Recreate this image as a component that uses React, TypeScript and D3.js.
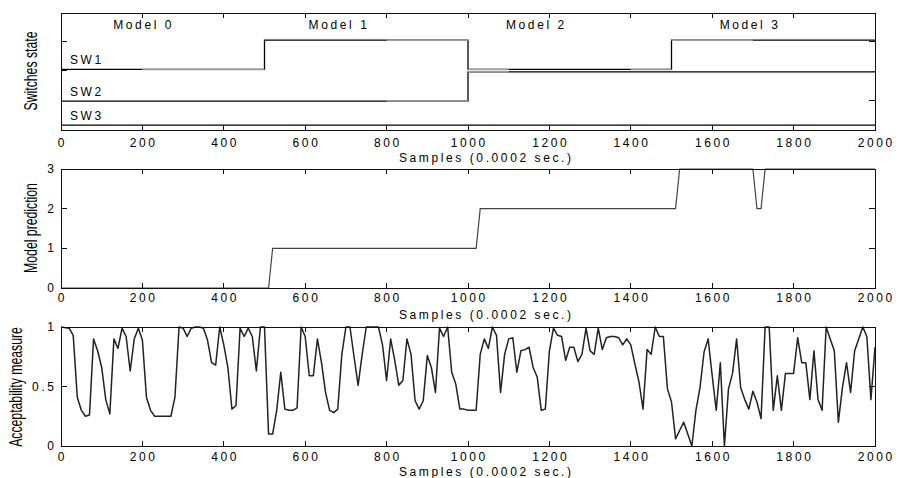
import { useEffect, useRef } from 'react';
import * as d3 from 'd3';

// shared x axis (samples)
const xTicks = [0, 200, 400, 600, 800, 1000, 1200, 1400, 1600, 1800, 2000];
const xTitle = 'Samples (0.0002 sec.)';

// switches panel
const modelNames = ['Model 0', 'Model 1', 'Model 2', 'Model 3'];
const modelLabelAt = [200, 680, 1165, 1690];
const modelStarts = [0, 500, 1000, 1500];
const switchNames = ['SW1', 'SW2', 'SW3'];
const switchOffsets = [1.9, 0.82, 0];
const sw1States = [0, 1, 0, 1];
const sw2States = [0, 0, 1, 1];
const sw3States = [0, 0, 0, 0];
const sw1Gray = [[200, 500], [800, 1100], [1400, 1700]];
const sw2Gray = [[800, 1100]];
const sw3Gray: number[][] = [];
const switchLeftTicks = [2.85, 1.85];
const switchRightTicks = [2.85, 0.85];

// model prediction panel
const predSamples = [0, 510, 520, 1020, 1030, 1510, 1520, 1700, 1710, 1720, 1730, 2000];
const predValues = [0, 0, 1, 1, 2, 2, 3, 3, 2, 2, 3, 3];
const predTicks = [0, 1, 2, 3];

// acceptability measure panel
const accSamples = [
  0, 20, 30, 40, 50, 60, 70, 80, 90, 100, 110, 120, 130, 140, 150, 160, 170, 180, 190, 200,
  210, 220, 230, 240, 250, 260, 270, 280, 290, 300, 310, 320, 330, 340, 350, 360, 370, 380, 390, 400,
  410, 420, 430, 440, 450, 460, 470, 480, 490, 500, 510, 520, 530, 540, 550, 560, 570, 580, 590, 600,
  610, 620, 630, 640, 650, 660, 670, 680, 690, 700, 710, 720, 730, 740, 750, 760, 770, 780, 790, 800,
  810, 820, 830, 840, 850, 860, 870, 880, 890, 900, 910, 920, 930, 940, 950, 960, 970, 980, 990, 1000,
  1010, 1020, 1030, 1040, 1050, 1060, 1070, 1080, 1090, 1100, 1110, 1120, 1130, 1140, 1150, 1160, 1170, 1180, 1190, 1200,
  1210, 1220, 1230, 1240, 1250, 1260, 1270, 1280, 1290, 1300, 1310, 1320, 1330, 1340, 1350, 1360, 1370, 1380, 1390, 1400,
  1410, 1420, 1430, 1440, 1450, 1460, 1470, 1480, 1490, 1500, 1510, 1520, 1530, 1540, 1550, 1560, 1570, 1580, 1590, 1600,
  1610, 1620, 1630, 1640, 1650, 1660, 1670, 1680, 1690, 1700, 1710, 1720, 1730, 1740, 1750, 1760, 1770, 1780, 1790, 1800,
  1810, 1820, 1830, 1840, 1850, 1860, 1870, 1880, 1890, 1900, 1910, 1920, 1930, 1940, 1950, 1960, 1970, 1980, 1990, 2000,
];
const accValues = [
  1.0, 0.99, 0.93, 0.41, 0.3, 0.25, 0.26, 0.9, 0.8, 0.66, 0.39, 0.27, 0.9, 0.82, 0.99, 0.92, 0.63, 0.9, 0.99, 0.89,
  0.41, 0.3, 0.25, 0.25, 0.25, 0.25, 0.25, 0.41, 1.0, 0.99, 0.92, 0.99, 1.0, 1.0, 0.99, 0.89, 0.7, 0.68, 1.0, 0.85,
  0.66, 0.31, 0.34, 0.99, 0.92, 0.99, 0.92, 0.63, 1.0, 1.0, 0.1, 0.1, 0.3, 0.62, 0.31, 0.3, 0.3, 0.32, 1.0, 0.92,
  0.59, 0.59, 0.9, 0.7, 0.45, 0.3, 0.28, 0.31, 0.77, 1.0, 1.0, 0.75, 0.51, 0.77, 1.0, 1.0, 1.0, 1.0, 0.85, 0.55,
  0.9, 0.72, 0.51, 0.55, 0.9, 0.77, 0.38, 0.31, 0.38, 0.76, 0.66, 0.45, 0.99, 0.92, 1.0, 0.62, 0.52, 0.31, 0.31, 0.3,
  0.3, 0.3, 0.77, 0.9, 0.82, 1.0, 0.93, 0.45, 0.77, 0.9, 0.91, 0.62, 0.8, 0.81, 0.83, 0.66, 0.58, 0.3, 0.31, 0.8,
  0.99, 0.93, 0.92, 0.72, 0.83, 0.83, 0.71, 0.77, 0.99, 0.8, 0.77, 0.99, 0.81, 0.91, 0.92, 0.92, 0.91, 0.85, 0.9, 0.85,
  0.69, 0.54, 0.31, 0.81, 0.77, 1.0, 0.92, 0.92, 0.48, 0.37, 0.06, 0.13, 0.2, 0.1, 0.0, 0.3, 0.49, 0.79, 0.9, 0.59,
  0.3, 0.7, 0.0, 0.48, 0.61, 0.9, 0.49, 0.39, 0.31, 0.46, 0.37, 0.23, 1.0, 1.0, 0.3, 0.59, 0.3, 0.61, 0.61, 0.61,
  0.91, 0.7, 0.7, 0.39, 0.8, 0.39, 0.3, 1.0, 0.9, 0.8, 0.2, 0.49, 0.7, 0.45, 0.8, 0.9, 1.0, 0.92, 0.39, 0.83,
];
const accTicks = [0, 0.5, 1];
const accTickLabels = ['0', '0.5', '1'];

const yTitles = ['Switches state', 'Model prediction', 'Acceptability measure'];

export default function App() {
  const ref = useRef<SVGSVGElement>(null);

  useEffect(() => {
    const svg = d3.select(ref.current);
    svg.selectAll('*').remove();

    const font = "'Liberation Sans', Arial, sans-serif";
    const ls = 2.6;
    const x = d3.scaleLinear().domain([0, 2000]).range([61, 875]);

    svg.append('rect').attr('width', 901).attr('height', 478).attr('fill', '#fff');

    const tickText = (g: any, tx: number, ty: number, s: string, anchor: string) => {
      const dx = anchor === 'middle' ? ls / 2 : anchor === 'end' ? ls : 0;
      g.append('text')
        .attr('x', tx + dx)
        .attr('y', ty)
        .attr('text-anchor', anchor)
        .attr('font-family', font)
        .attr('font-size', 12)
        .attr('letter-spacing', ls)
        .attr('fill', '#000')
        .text(s);
    };

    function frame(
      top: number,
      bottom: number,
      y: any,
      leftTicks: number[],
      rightTicks: number[],
      labelDy: number,
      titleDy: number
    ) {
      const g = svg.append('g');
      const ticks = g.append('g').attr('stroke', '#111').attr('shape-rendering', 'crispEdges');
      xTicks.forEach((t) => {
        ticks.append('line').attr('x1', x(t)).attr('x2', x(t)).attr('y1', top).attr('y2', top + 5);
        ticks.append('line').attr('x1', x(t)).attr('x2', x(t)).attr('y1', bottom).attr('y2', bottom - 5);
        tickText(g, x(t), bottom + labelDy, String(t), 'middle');
      });
      leftTicks.forEach((t) => {
        ticks.append('line').attr('x1', x(0)).attr('x2', x(0) + 6).attr('y1', y(t)).attr('y2', y(t));
      });
      rightTicks.forEach((t) => {
        ticks.append('line').attr('x1', x(2000)).attr('x2', x(2000) - 6).attr('y1', y(t)).attr('y2', y(t));
      });
      g.append('rect')
        .attr('x', x(0))
        .attr('y', top)
        .attr('width', x(2000) - x(0))
        .attr('height', bottom - top)
        .attr('fill', 'none')
        .attr('stroke', '#111')
        .attr('shape-rendering', 'crispEdges');
      tickText(g, 485, bottom + titleDy, xTitle, 'middle');
      return g;
    }

    const yTitle = (bx: number, cy: number, s: string) => {
      svg
        .append('text')
        .attr('transform', `translate(${bx},${cy}) rotate(-90) scale(0.645,1)`)
        .attr('text-anchor', 'middle')
        .attr('font-family', font)
        .attr('font-size', 19)
        .attr('fill', '#000')
        .text(s);
    };

    // ---- Switches state ----
    const y1 = d3.scaleLinear().domain([-0.17, 3.83]).range([130, 13]);
    const states = [sw1States, sw2States, sw3States];
    const grays = [sw1Gray, sw2Gray, sw3Gray];
    const step = d3
      .line<number[]>()
      .x((d) => x(d[0]))
      .y((d) => y1(d[1]))
      .curve(d3.curveStepAfter);

    states.forEach((st, k) => {
      const off = switchOffsets[k];
      const pts = modelStarts.map((s, i) => [s, off + st[i]]);
      pts.push([2000, off + st[st.length - 1]]);
      svg
        .append('path')
        .attr('d', step(pts))
        .attr('fill', 'none')
        .attr('stroke', '#000')
        .attr('stroke-width', 1.3);
      grays[k].forEach(([a, b]) => {
        modelStarts.forEach((s, i) => {
          const e = i < modelStarts.length - 1 ? modelStarts[i + 1] : 2000;
          const lo = Math.max(a, s);
          const hi = Math.min(b, e);
          if (hi <= lo) return;
          svg
            .append('line')
            .attr('x1', x(lo))
            .attr('x2', x(hi))
            .attr('y1', y1(off + st[i]))
            .attr('y2', y1(off + st[i]))
            .attr('stroke', '#9c9c9c')
            .attr('stroke-width', 1.6);
        });
      });
      const lg = svg.append('g');
      tickText(lg, x(22), y1(off) - 5, switchNames[k], 'start');
    });

    const g1 = frame(13, 130, y1, switchLeftTicks, switchRightTicks, 17, 32);
    modelNames.forEach((m, i) => tickText(g1, x(modelLabelAt[i]), 29, m, 'middle'));
    yTitle(37, 71, yTitles[0]);

    // ---- Model prediction ----
    const y2 = d3.scaleLinear().domain([0, 3]).range([288, 169]);
    const predLine = d3
      .line<number>()
      .x((d, i) => x(predSamples[i]))
      .y((d) => y2(d));
    svg
      .append('path')
      .attr('d', predLine(predValues))
      .attr('fill', 'none')
      .attr('stroke', '#444')
      .attr('stroke-width', 1.2);
    const g2 = frame(169, 288, y2, predTicks, predTicks, 14, 31);
    predTicks.forEach((t) => tickText(g2, 54, y2(t) + 4, String(t), 'end'));
    yTitle(37, 228, yTitles[1]);

    // ---- Acceptability measure ----
    const y3 = d3.scaleLinear().domain([0, 1]).range([446, 327]);
    const accLine = d3
      .line<number>()
      .x((d, i) => x(accSamples[i]))
      .y((d) => y3(d));
    svg
      .append('path')
      .attr('d', accLine(accValues))
      .attr('fill', 'none')
      .attr('stroke', '#222')
      .attr('stroke-width', 1.5)
      .attr('stroke-linejoin', 'round');
    const g3 = frame(327, 446, y3, accTicks, accTicks, 15, 30);
    accTicks.forEach((t, i) => tickText(g3, 54, y3(t) + 4, accTickLabels[i], 'end'));
    yTitle(22, 387, yTitles[2]);
  }, []);

  return (
    <div style={{ position: 'absolute', left: 0, top: 0 }}>
      <svg ref={ref} width={901} height={478} style={{ display: 'block' }} />
    </div>
  );
}
